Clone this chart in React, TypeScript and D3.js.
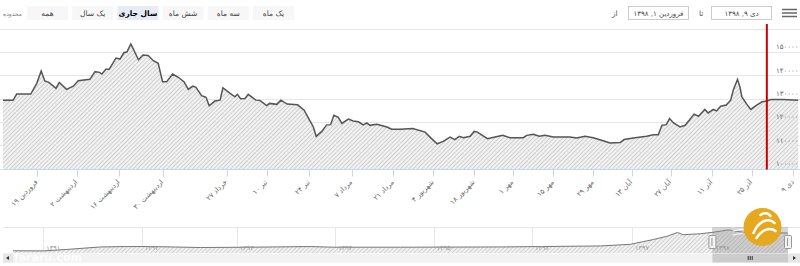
import React, { useEffect, useRef } from 'react';
import * as d3 from 'd3';

// trading-day index (ordinal axis, holidays skipped) and value
const dayIdx = [
  0, 2.5, 3.4, 6.9, 8.4, 9.5, 10.4, 11.4, 13.2, 14.0, 15.8, 17.5, 18.7, 21.6, 22.9, 24.0, 24.6, 25.6, 26.4, 28.1,
  29.1, 30.1, 30.8, 31.8, 33.7, 34.8, 36.1, 37.4, 38.6, 39.7, 40.7, 42.2, 43.6, 45.0, 46.1, 47.2, 48.0, 49.4, 50.5, 51.3,
  52.7, 54.0, 54.7, 56.5, 57.7, 58.3, 59.1, 60.2, 61.0, 62.9, 63.9, 65.6, 66.3, 68.1, 69.1, 70.7, 73.3, 74.9, 76.5, 77.2,
  77.9, 79.3, 80.5, 81.5, 82.3, 83.4, 84.3, 85.9, 87.1, 88.4, 89.6, 90.5, 91.3, 93.0, 95.5, 96.7, 98.8, 101.9, 105.0, 106.6,
  108.0, 109.5, 111.2, 112.4, 113.5, 114.5, 116.2, 117.2, 118.0, 120.5, 122.4, 124.3, 126.1, 129.4, 130.3, 131.9, 133.4, 134.8, 136.9, 141.0,
  142.7, 144.8, 146.8, 148.9, 151.0, 153.5, 154.5, 156.8, 160.1, 161.8, 163.0, 163.9, 165.0, 165.8, 166.8, 168.4, 169.7, 170.7, 171.9, 173.0,
  174.6, 175.4, 176.7, 177.5, 178.5, 179.9, 181.0, 181.7, 182.7, 183.3, 183.8, 185.0, 186.0, 187.5, 188.8, 190.0, 191.0, 194.1, 197.8,
];
const prices = [
  129200, 129200, 131900, 131900, 136500, 141800, 137500, 136900, 134400, 136900, 133900, 135300, 137600, 138200, 141500, 141200, 140500, 142500, 142500, 147300,
  146900, 149700, 149900, 153400, 146600, 148600, 148400, 146200, 145100, 137200, 137200, 140500, 139100, 137200, 133900, 135300, 134800, 131200, 130500, 126900,
  128900, 129300, 134600, 132200, 130700, 131800, 129900, 130000, 131800, 129300, 129200, 127000, 127900, 127500, 129300, 127600, 127300, 125000, 120000, 117800,
  113800, 115900, 118700, 118800, 122800, 121900, 119300, 121200, 120400, 120000, 118700, 119500, 118500, 119000, 117800, 116800, 116800, 117100, 115600, 112800,
  110600, 111600, 113500, 112400, 113800, 113200, 113800, 115900, 115600, 112800, 113500, 114200, 113200, 113200, 114200, 114700, 113800, 114200, 113500, 113500,
  113100, 113800, 113200, 112100, 110900, 111100, 112400, 113100, 113800, 114500, 114500, 118500, 118800, 121400, 119500, 117800, 118500, 120700, 123300, 122400,
  125300, 123800, 125300, 124700, 126700, 127200, 129300, 133900, 138200, 135000, 130700, 127600, 125300, 127200, 128600, 128900, 129600, 129600, 129300,
];

const tickIdx = [8.5, 18.3, 28.9, 39.7, 55.6, 65.6, 76.2, 86.7, 97.1, 107.0, 117.2, 126.8, 136.9, 146.8, 156.4, 166.1, 176.3, 186.2, 196.6];
const tickLabels = [
  'فروردین ۱۹', 'اردیبهشت ۲', 'اردیبهشت ۱۶', 'اردیبهشت ۳۰', 'خرداد ۲۷', 'تیر ۱۰', 'تیر ۲۴', 'مرداد ۷', 'مرداد ۲۱', 'شهریور ۴',
  'شهریور ۱۸', 'مهر ۱', 'مهر ۱۵', 'مهر ۲۹', 'آبان ۱۳', 'آبان ۲۷', 'آذر ۱۱', 'آذر ۲۵', 'دی ۹',
];
const yTicks = [100000, 110000, 120000, 130000, 140000, 150000, 160000];
const markerIdx = 190;

// navigator (whole history), time in years since the start
const navT = [0, 0.32, 0.56, 0.91, 1.18, 1.43, 1.95, 2.47, 3.09, 3.33, 4.03, 5.07, 6.11, 6.42, 6.66, 6.8, 6.91, 6.97, 7.15, 7.28, 7.44, 7.6, 7.84, 8.06];
const navValues = [13600, 13000, 21900, 37300, 39700, 39700, 33800, 35600, 39700, 35600, 35600, 37300, 43300, 53300, 83000, 102500, 126200, 112600, 118500, 127400, 142200, 127400, 126200, 122700];
const navYears = ['۱۳۹۱', '۱۳۹۲', '۱۳۹۳', '۱۳۹۴', '۱۳۹۵', '۱۳۹۶', '۱۳۹۷', '۱۳۹۸'];
const navYearT = [0.315, 1.339, 2.328, 3.351, 4.374, 5.398, 6.438, 7.274];
const rangeT = [7.274, 8.06];

const buttons = ['همه', 'یک سال', 'سال جاری', 'شش ماه', 'سه ماه', 'یک ماه'];
const selectedButton = 'سال جاری';
const fromDate = 'فروردین ۱, ۱۳۹۸';
const toDate = 'دی ۹, ۱۳۹۸';

const faDigits = '۰۱۲۳۴۵۶۷۸۹';
const toFa = (s: string) => s.replace(/\d/g, (d) => faDigits[+d]);

const FONT = '"DejaVu Sans", sans-serif';

const App: React.FC = () => {
  const svgRef = useRef<SVGSVGElement | null>(null);

  useEffect(() => {
    if (!svgRef.current) return;
    const width = 800;
    const height = 266;
    const svg = d3.select(svgRef.current);
    svg.attr('width', width).attr('height', height);
    svg.selectAll('*').remove();
    svg.style('font-family', FONT);

    // hatch pattern for area fills
    const defs = svg.append('defs');
    const pat = defs.append('pattern')
      .attr('id', 'hatch')
      .attr('patternUnits', 'userSpaceOnUse')
      .attr('width', 3)
      .attr('height', 3)
      .attr('patternTransform', 'rotate(45)');
    pat.append('rect').attr('width', 3).attr('height', 3).attr('fill', '#f2f2f2');
    pat.append('line').attr('x1', 0.5).attr('y1', 0).attr('x2', 0.5).attr('y2', 3)
      .attr('stroke', '#d0d0d0').attr('stroke-width', 1);

    // --- top toolbar ---
    const bar = svg.append('g');
    bar.append('text').text('محدوده').attr('x', 3).attr('y', 16)
      .attr('font-size', 6).attr('fill', '#777');
    buttons.forEach((b, i) => {
      const bx = 27 + i * 45.2;
      const sel = b === selectedButton;
      bar.append('rect').attr('x', bx).attr('y', 6).attr('width', 41).attr('height', 14)
        .attr('fill', sel ? '#e6ebf5' : '#f7f7f7');
      bar.append('text').text(b).attr('x', bx + 20.5).attr('y', 16)
        .attr('text-anchor', 'middle').attr('font-size', 7.5)
        .attr('font-weight', sel ? 'bold' : 'normal')
        .attr('fill', sel ? '#000' : '#444');
    });
    bar.append('text').text('از').attr('x', 612).attr('y', 16).attr('font-size', 7.5).attr('fill', '#555');
    bar.append('rect').attr('x', 628.5).attr('y', 6.5).attr('width', 60).attr('height', 13)
      .attr('fill', '#fff').attr('stroke', '#ccc');
    bar.append('text').text(fromDate).attr('x', 658.5).attr('y', 16).attr('text-anchor', 'middle')
      .attr('font-size', 7).attr('fill', '#444');
    bar.append('text').text('تا').attr('x', 699).attr('y', 16).attr('font-size', 7.5).attr('fill', '#555');
    bar.append('rect').attr('x', 711.5).attr('y', 6.5).attr('width', 60).attr('height', 13)
      .attr('fill', '#fff').attr('stroke', '#ccc');
    bar.append('text').text(toDate).attr('x', 741.5).attr('y', 16).attr('text-anchor', 'middle')
      .attr('font-size', 7).attr('fill', '#444');
    [9.5, 13, 16.5].forEach((yy) => {
      bar.append('line').attr('x1', 782).attr('x2', 797).attr('y1', yy).attr('y2', yy)
        .attr('stroke', '#666').attr('stroke-width', 1.5);
    });

    // --- main chart ---
    const x = d3.scaleLinear().domain([0, 198]).range([3, 799]);
    const y = d3.scaleLinear().domain([100000, 160000]).range([168.5, 28.5]);
    const axisY = 169.5;
    const pts = dayIdx.map((d, i) => [d, prices[i]] as [number, number]);

    const chart = svg.append('g');
    chart.selectAll('.grid').data(yTicks).enter().append('line')
      .attr('x1', 0).attr('x2', width)
      .attr('y1', (d) => Math.round(y(d)) + 0.5).attr('y2', (d) => Math.round(y(d)) + 0.5)
      .attr('stroke', '#e6e6e6');

    const area = d3.area<[number, number]>()
      .x((d) => x(d[0])).y0(axisY).y1((d) => y(d[1]));
    chart.append('path').datum(pts).attr('d', area).attr('fill', 'url(#hatch)');
    const line = d3.line<[number, number]>().x((d) => x(d[0])).y((d) => y(d[1]));
    chart.append('path').datum(pts).attr('d', line)
      .attr('fill', 'none').attr('stroke', '#555').attr('stroke-width', 1.5);

    // x axis
    chart.append('line').attr('x1', 3).attr('x2', 800).attr('y1', axisY).attr('y2', axisY)
      .attr('stroke', '#ccd6eb');
    chart.selectAll('.tick').data(tickIdx).enter().append('line')
      .attr('x1', (d) => Math.round(x(d)) + 0.5).attr('x2', (d) => Math.round(x(d)) + 0.5)
      .attr('y1', axisY).attr('y2', axisY + 7).attr('stroke', '#ccd6eb');
    chart.selectAll('.xlabel').data(tickIdx).enter().append('text')
      .text((d, i) => tickLabels[i])
      .attr('transform', (d) => `translate(${x(d) + 1},${axisY + 13}) rotate(-45)`)
      .attr('text-anchor', 'end').attr('font-size', 7).attr('fill', '#666');

    // y labels on the right
    chart.selectAll('.ylabel').data(yTicks.filter((v) => v < 160000)).enter().append('text')
      .text((d) => toFa(String(d)))
      .attr('x', 776).attr('y', (d) => y(d) - 2.5)
      .attr('font-size', 7).attr('fill', '#666');

    // current-day marker
    chart.append('line')
      .attr('x1', x(markerIdx)).attr('x2', x(markerIdx)).attr('y1', 24).attr('y2', axisY)
      .attr('stroke', '#cc0000').attr('stroke-width', 2);

    // --- navigator ---
    const nx = d3.scaleLinear().domain([0, 8.06]).range([13, 788]);
    const ny = d3.scaleLinear().domain([0, 160000]).range([253, 227]);
    const nav = svg.append('g');
    nav.append('line').attr('x1', 3).attr('x2', 800).attr('y1', 227.5).attr('y2', 227.5).attr('stroke', '#e6e6e6');
    nav.selectAll('.ngrid').data(navYearT).enter().append('line')
      .attr('x1', (d) => Math.round(nx(d)) + 0.5).attr('x2', (d) => Math.round(nx(d)) + 0.5)
      .attr('y1', 227).attr('y2', 253).attr('stroke', '#e6e6e6');
    const npts = navT.map((t, i) => [t, navValues[i]] as [number, number]);
    nav.append('path').datum(npts)
      .attr('d', d3.area<[number, number]>().x((d) => nx(d[0])).y0(253).y1((d) => ny(d[1])))
      .attr('fill', 'url(#hatch)');
    nav.append('path').datum(npts)
      .attr('d', d3.line<[number, number]>().x((d) => nx(d[0])).y((d) => ny(d[1])))
      .attr('fill', 'none').attr('stroke', '#777').attr('stroke-width', 1);
    nav.selectAll('.nlabel').data(navYearT).enter().append('text')
      .text((d, i) => navYears[i])
      .attr('x', (d) => nx(d) + 3).attr('y', 250).attr('font-size', 6.5).attr('fill', '#999');

    // selected range mask and handles
    const r0 = nx(rangeT[0]);
    const r1 = nx(rangeT[1]);
    nav.append('rect').attr('x', r0).attr('y', 227).attr('width', r1 - r0).attr('height', 26)
      .attr('fill', 'rgba(140,140,140,0.35)');
    [r0, r1].forEach((hx) => {
      nav.append('rect').attr('x', hx - 3.5).attr('y', 235.5).attr('width', 7).attr('height', 13)
        .attr('rx', 1).attr('fill', '#f2f2f2').attr('stroke', '#999');
      nav.append('line').attr('x1', hx - 0.5).attr('x2', hx - 0.5).attr('y1', 238).attr('y2', 246).attr('stroke', '#999');
    });

    // scrollbar
    nav.append('rect').attr('x', 3).attr('y', 253.5).attr('width', 797).attr('height', 9).attr('fill', '#f2f2f2');
    nav.append('rect').attr('x', r0).attr('y', 253.5).attr('width', r1 - r0).attr('height', 9).attr('fill', '#cccccc');
    [-2, 0, 2].forEach((o) => {
      nav.append('line').attr('x1', (r0 + r1) / 2 + o).attr('x2', (r0 + r1) / 2 + o)
        .attr('y1', 256).attr('y2', 260).attr('stroke', '#333');
    });
    nav.append('rect').attr('x', 788).attr('y', 253.5).attr('width', 12).attr('height', 9).attr('fill', '#e6e6e6');
    nav.append('path').attr('d', 'M793,256 L796,258 L793,260 Z').attr('fill', '#333');
    nav.append('rect').attr('x', 3).attr('y', 253.5).attr('width', 10).attr('height', 9).attr('fill', '#e6e6e6');
    nav.append('path').attr('d', 'M9,256 L6,258 L9,260 Z').attr('fill', '#333');
    nav.append('text').text('fararu.com').attr('x', 14).attr('y', 261)
      .attr('font-size', 11).attr('font-weight', 'bold').attr('fill', '#fff').attr('opacity', 0.85);

    // watermark logo
    const logo = svg.append('g').attr('transform', 'translate(762.5,227)');
    logo.append('circle').attr('r', 19).attr('fill', '#e5a81e');
    logo.append('path').attr('d', 'M-9,6 C-4,-6 6,-10 12,-4 M-6,11 C0,2 8,0 13,4 M-2,-12 C2,-15 6,-14 8,-11')
      .attr('fill', 'none').attr('stroke', '#fff').attr('stroke-width', 2.5).attr('stroke-linecap', 'round');
    [-6, -2, 2].forEach((o) => {
      logo.append('line').attr('x1', -30).attr('x2', -19).attr('y1', o + 6).attr('y2', o + 4)
        .attr('stroke', '#fff').attr('stroke-width', 1);
    });
  }, []);

  return (
    <div style={{ position: 'absolute', left: 0, top: 0, background: '#fff' }}>
      <svg ref={svgRef} style={{ display: 'block' }}></svg>
    </div>
  );
};

export default App;
